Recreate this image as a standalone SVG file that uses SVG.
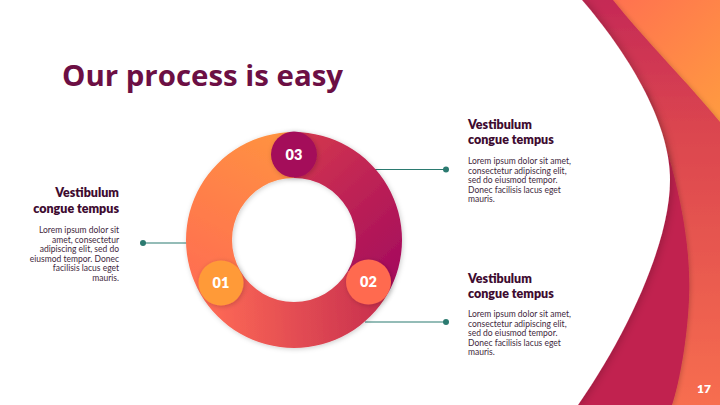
<svg xmlns="http://www.w3.org/2000/svg" width="720" height="405" viewBox="0 0 720 405">
<defs>
<style>
.title{font-family:"Open Sans",Lato,"Liberation Sans",sans-serif;font-weight:700;font-size:28.5px;fill:#6C0F44}
.head{font-family:Lato,"Liberation Sans",sans-serif;font-weight:800;font-size:12.5px;fill:#3E0B30}
.body{font-family:Lato,"Liberation Sans",sans-serif;font-size:8.5px;fill:#42283D}
.num{font-family:Lato,"Liberation Sans",sans-serif;font-weight:800;font-size:14.5px;fill:#fff;text-anchor:middle}
.conn{stroke:#2B7A70;stroke-width:1.2;fill:none}
.dot{fill:#2B7A70}
</style>
<linearGradient id="gOrange" gradientUnits="userSpaceOnUse" x1="610" y1="0" x2="720" y2="120">
<stop offset="0" stop-color="#FF7150"/><stop offset="1" stop-color="#FF9B40"/>
</linearGradient>
<linearGradient id="gBand" gradientUnits="userSpaceOnUse" x1="0" y1="0" x2="0" y2="405">
<stop offset="0" stop-color="#C52955"/><stop offset="0.3" stop-color="#DA4450"/><stop offset="1" stop-color="#F76E50"/>
</linearGradient>
<linearGradient id="gL" gradientUnits="userSpaceOnUse" x1="294" y1="135" x2="205" y2="300">
<stop offset="0" stop-color="#FF9340"/><stop offset="1" stop-color="#FF6C53"/>
</linearGradient>
<linearGradient id="gTR" gradientUnits="userSpaceOnUse" x1="300" y1="150" x2="400" y2="260">
<stop offset="0" stop-color="#D0344F"/><stop offset="1" stop-color="#A80E5C"/>
</linearGradient>
<linearGradient id="gB" gradientUnits="userSpaceOnUse" x1="205" y1="300" x2="390" y2="290">
<stop offset="0" stop-color="#FF6B55"/><stop offset="1" stop-color="#C52C4F"/>
</linearGradient>
<filter id="shWhite" x="-20%" y="-10%" width="140%" height="120%">
<feDropShadow dx="2" dy="0" stdDeviation="4" flood-color="#000" flood-opacity="0.22"/>
</filter>
<filter id="shSoft" x="-20%" y="-20%" width="140%" height="140%">
<feDropShadow dx="1" dy="1" stdDeviation="2.5" flood-color="#000" flood-opacity="0.2"/>
</filter>
</defs>

<g id="background">
<rect width="720" height="405" fill="#fff"/>
<rect x="560" y="0" width="160" height="405" fill="url(#gOrange)"/>
<path d="M560,0 L613,0 C645,40 690,85 720,122 L720,405 L560,405 Z" fill="url(#gBand)" filter="url(#shSoft)"/>
<path d="M560,60 L645,90 C675,160 692,240 689,300 C687,340 680,380 672,405 L560,405 Z" fill="#C1234F" filter="url(#shSoft)"/>
<path d="M0,0 L582,0 C625,50 670,120 670,180 C670,240 630,330 578,405 L0,405 Z" fill="#fff" filter="url(#shWhite)"/>
</g>

<g id="title">
<text class="title" x="62" y="86" textLength="281" lengthAdjust="spacingAndGlyphs">Our process is easy</text>
</g>

<g id="connectors">
<line class="conn" x1="143" y1="243" x2="188" y2="243"/>
<circle class="dot" cx="143" cy="243" r="3"/>
<line class="conn" x1="372" y1="169.5" x2="446" y2="169.5"/>
<circle class="dot" cx="446" cy="169.5" r="3"/>
<line class="conn" x1="365" y1="322" x2="446" y2="322"/>
<circle class="dot" cx="446" cy="322" r="3"/>
</g>

<g id="ring" filter="url(#shSoft)">
<path d="M387.53,294 A108,108 0 0 1 200.47,294 L240.31,271 A62,62 0 0 0 347.69,271 Z" fill="url(#gB)"/>
<path d="M294,132 A108,108 0 0 1 387.53,294 L347.69,271 A62,62 0 0 0 294,178 Z" fill="url(#gTR)"/>
<path d="M200.47,294 A108,108 0 0 1 294,132 L294,178 A62,62 0 0 0 240.31,271 Z" fill="url(#gL)"/>
</g>

<g id="step-01">
<circle cx="221" cy="283" r="22.5" fill="#FF9A38" filter="url(#shSoft)"/>
<text class="num" x="221" y="288">01</text>
</g>
<g id="step-02">
<circle cx="368.5" cy="282" r="22.5" fill="#FF6A50" filter="url(#shSoft)"/>
<text class="num" x="368.5" y="287">02</text>
</g>
<g id="step-03">
<circle cx="294" cy="154.5" r="23" fill="#A4105A" filter="url(#shSoft)"/>
<text class="num" x="294" y="159.5">03</text>
</g>

<g id="text-left" text-anchor="end">
<text class="head" x="119" y="197">Vestibulum</text>
<text class="head" x="119" y="213">congue tempus</text>
<text class="body" x="119" y="233">Lorem ipsum dolor sit</text>
<text class="body" x="119" y="242.5">amet, consectetur</text>
<text class="body" x="119" y="252">adipiscing elit, sed do</text>
<text class="body" x="119" y="261.5">eiusmod tempor. Donec</text>
<text class="body" x="119" y="271">facilisis lacus eget</text>
<text class="body" x="119" y="280.5">mauris.</text>
</g>

<g id="text-right-top">
<text class="head" x="468" y="129">Vestibulum</text>
<text class="head" x="468" y="144">congue tempus</text>
<text class="body" x="468" y="164">Lorem ipsum dolor sit amet,</text>
<text class="body" x="468" y="173.5">consectetur adipiscing elit,</text>
<text class="body" x="468" y="183">sed do eiusmod tempor.</text>
<text class="body" x="468" y="192.5">Donec facilisis lacus eget</text>
<text class="body" x="468" y="202">mauris.</text>
</g>

<g id="text-right-bottom">
<text class="head" x="468" y="283">Vestibulum</text>
<text class="head" x="468" y="298">congue tempus</text>
<text class="body" x="468" y="317">Lorem ipsum dolor sit amet,</text>
<text class="body" x="468" y="326.5">consectetur adipiscing elit,</text>
<text class="body" x="468" y="336">sed do eiusmod tempor.</text>
<text class="body" x="468" y="345.5">Donec facilisis lacus eget</text>
<text class="body" x="468" y="355">mauris.</text>
</g>

<g id="page-number">
<text x="711" y="393" text-anchor="end" style="font-family:Lato,'Liberation Sans',sans-serif;font-weight:800;font-size:12px;fill:#fff">17</text>
</g>
</svg>
